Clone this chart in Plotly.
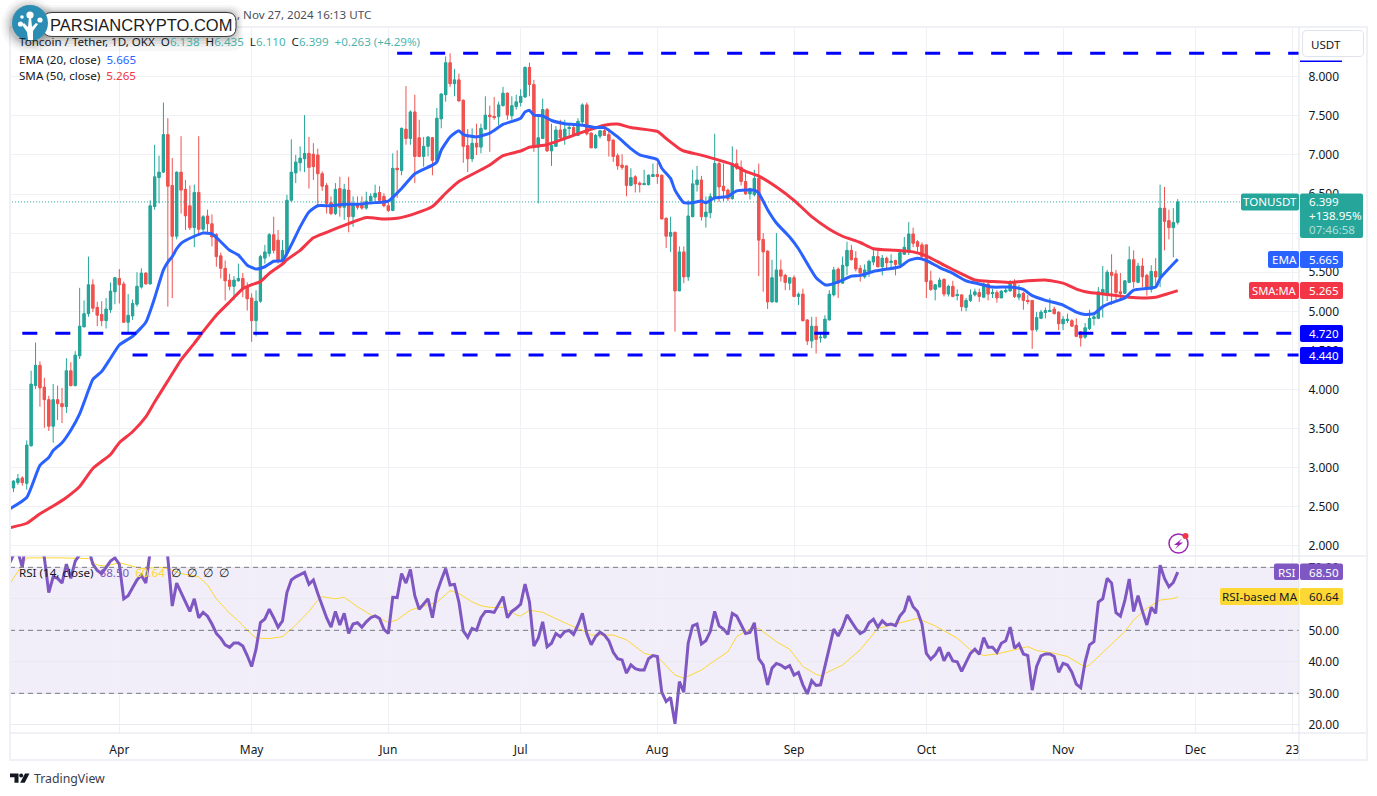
import pandas as pd
import plotly.graph_objects as go

W, H = 1377, 796

# daily candles, 7 Mar to 27 Nov 2024, one row per month
opens = [
    2.69, 2.74, 2.81, 2.87, 2.80, 3.28, 4.05, 4.31, 4.03, 3.87, 3.53, 3.87, 3.82, 3.78, 4.24, 4.05, 4.43, 4.80, 4.97, 5.34, 5.05, 4.96, 4.88, 5.02, 5.25,
    5.42, 5.35, 4.86, 4.94, 5.09, 5.31, 5.49, 5.35, 6.34, 6.71, 6.78, 7.26, 6.61, 5.96, 6.78, 6.56, 6.35, 6.07, 6.52, 6.05, 6.22, 6.12, 5.98, 5.71, 5.55, 5.40, 5.32, 5.39, 5.42, 5.31,
    5.17, 4.88, 5.13, 5.68, 5.74, 5.98, 5.91, 5.65, 5.74, 6.42, 6.77, 6.90, 6.95, 7.02, 7.01, 7.00, 6.76, 6.61, 6.39, 6.25, 6.57, 6.33, 6.55, 6.21, 6.38, 6.38, 6.32, 6.41, 6.46, 6.52, 6.47,
    6.35, 6.29, 6.83, 6.80, 7.33, 7.21, 7.55, 7.22, 6.98, 7.11, 7.22, 6.93, 7.46, 7.77, 8.18, 7.91, 7.96, 7.70, 7.12, 6.95, 7.15, 7.10, 7.33, 7.51, 7.49, 7.49, 7.63, 7.79, 7.50, 7.62,
    7.67, 7.74, 8.12, 7.90, 7.10, 7.21, 7.58, 7.05, 7.11, 7.32, 7.22, 7.34, 7.35, 7.25, 7.42, 7.64, 7.28, 7.09, 7.24, 7.31, 7.26, 7.19, 6.99, 6.87, 6.86, 6.61, 6.72, 6.64, 6.62, 6.62, 6.73,
    6.75, 6.74, 6.19, 5.96, 6.01, 5.26, 5.76, 5.44, 6.21, 6.62, 6.68, 6.21, 6.26, 6.46, 6.89, 6.60, 6.55, 6.44, 6.89, 6.84, 6.66, 6.50, 6.49, 6.70, 5.92, 5.77, 5.12, 5.12, 5.53, 5.46, 5.36,
    5.43, 5.19, 5.22, 4.89, 4.62, 4.81, 4.66, 4.66, 4.89, 5.21, 5.54, 5.36, 5.58, 5.78, 5.68, 5.55, 5.44, 5.51, 5.63, 5.70, 5.57, 5.68, 5.63, 5.65, 5.60, 5.73, 5.76, 5.99, 5.89, 5.85,
    5.85, 5.39, 5.28, 5.31, 5.41, 5.22, 5.32, 5.20, 5.21, 5.05, 5.14, 5.21, 5.24, 5.18, 5.35, 5.23, 5.24, 5.17, 5.25, 5.26, 5.37, 5.18, 5.23, 5.14, 5.14, 4.77, 4.91, 4.99, 5.00, 5.03, 4.99,
    4.84, 4.88, 4.88, 4.82, 4.74, 4.67, 4.78, 4.91, 4.91, 5.23, 5.21, 5.50, 5.48, 5.25, 5.23, 5.37, 5.66, 5.37, 5.58, 5.46, 5.28, 5.51, 5.43, 6.32, 6.16, 6.07, 6.138,
]
highs = [
    2.76, 2.84, 2.92, 2.89, 3.35, 4.24, 4.60, 4.36, 4.15, 3.92, 4.07, 4.05, 4.02, 4.40, 4.35, 4.49, 5.30, 5.14, 5.70, 5.41, 5.12, 5.13, 5.17, 5.37, 5.44,
    5.54, 5.38, 5.22, 5.15, 5.50, 5.55, 5.50, 6.42, 7.13, 6.99, 7.67, 7.47, 6.96, 6.79, 7.24, 6.68, 6.61, 6.62, 7.24, 6.23, 6.30, 6.24, 6.00, 5.75, 5.65, 5.48, 5.45, 5.61, 5.49, 5.37,
    5.23, 5.27, 5.72, 5.85, 6.00, 6.21, 6.04, 5.91, 6.49, 7.20, 7.00, 7.11, 7.51, 7.23, 7.15, 7.08, 6.79, 6.64, 6.47, 6.64, 6.72, 6.63, 6.72, 6.47, 6.47, 6.47, 6.53, 6.51, 6.62, 6.60, 6.51,
    6.42, 7.02, 7.06, 7.35, 7.88, 7.57, 7.77, 7.45, 7.23, 7.24, 7.23, 7.60, 7.79, 8.26, 8.30, 8.10, 8.04, 7.71, 7.33, 7.34, 7.40, 7.40, 7.75, 7.63, 7.74, 7.68, 7.87, 7.80, 7.75, 7.77,
    7.84, 8.13, 8.18, 7.96, 7.51, 7.72, 7.60, 7.40, 7.37, 7.45, 7.45, 7.39, 7.38, 7.47, 7.66, 7.67, 7.29, 7.27, 7.32, 7.37, 7.34, 7.20, 7.02, 7.01, 6.87, 6.83, 6.74, 6.66, 6.81, 6.75, 6.89,
    6.90, 6.75, 6.20, 6.21, 6.02, 5.83, 5.83, 6.42, 6.81, 6.86, 6.73, 6.47, 6.51, 7.27, 6.91, 6.89, 6.57, 7.11, 7.07, 6.93, 6.79, 6.58, 6.81, 6.89, 6.00, 5.78, 5.66, 6.00, 5.66, 5.48, 5.43,
    5.46, 5.24, 5.29, 4.90, 4.93, 4.93, 4.72, 4.95, 5.27, 5.57, 5.56, 5.70, 5.89, 5.85, 5.77, 5.59, 5.60, 5.66, 5.82, 5.78, 5.72, 5.70, 5.73, 5.66, 5.80, 5.95, 6.14, 6.07, 5.91, 5.88,
    5.85, 5.52, 5.35, 5.43, 5.42, 5.34, 5.39, 5.28, 5.22, 5.17, 5.28, 5.29, 5.29, 5.37, 5.37, 5.29, 5.27, 5.27, 5.30, 5.40, 5.41, 5.34, 5.25, 5.21, 5.14, 4.99, 5.02, 5.05, 5.17, 5.06, 5.00,
    4.94, 4.97, 4.90, 4.91, 4.74, 4.85, 5.02, 4.98, 5.31, 5.58, 5.53, 5.73, 5.53, 5.49, 5.40, 5.83, 5.78, 5.62, 5.68, 5.48, 5.59, 5.68, 6.62, 6.59, 6.30, 6.32, 6.435,
]
lows = [
    2.67, 2.69, 2.78, 2.77, 2.72, 3.27, 4.01, 3.78, 3.51, 3.47, 3.32, 3.61, 3.57, 3.70, 4.04, 4.04, 4.39, 4.80, 4.93, 4.99, 4.81, 4.81, 4.78, 4.98, 5.09,
    5.10, 4.85, 4.73, 4.89, 5.06, 5.29, 5.34, 5.34, 6.30, 6.38, 6.77, 5.06, 5.17, 5.92, 6.25, 6.04, 6.04, 5.82, 5.99, 6.00, 6.00, 5.83, 5.57, 5.42, 5.14, 5.27, 5.14, 5.38, 5.18, 5.01,
    4.61, 4.68, 5.11, 5.61, 5.70, 5.74, 5.61, 5.62, 5.70, 6.40, 6.64, 6.79, 6.78, 6.57, 6.68, 6.34, 6.54, 6.25, 6.23, 6.23, 6.21, 6.17, 6.01, 6.08, 6.30, 6.30, 6.30, 6.37, 6.40, 6.41, 6.33,
    6.27, 6.28, 6.45, 6.74, 7.13, 7.13, 6.64, 6.97, 6.85, 6.98, 6.74, 6.91, 7.34, 7.68, 7.87, 7.75, 7.68, 6.90, 6.78, 6.91, 7.00, 7.02, 7.32, 7.04, 7.45, 7.38, 7.62, 7.45, 7.45, 7.58,
    7.62, 7.73, 7.75, 7.04, 6.38, 7.21, 7.04, 6.86, 7.10, 7.19, 7.13, 7.21, 7.24, 7.24, 7.37, 7.25, 7.09, 7.08, 7.21, 7.25, 6.98, 6.91, 6.81, 6.81, 6.47, 6.60, 6.52, 6.52, 6.62, 6.61, 6.72,
    6.63, 6.18, 5.81, 5.76, 4.74, 5.26, 5.36, 5.39, 6.20, 6.53, 6.16, 6.07, 6.19, 6.40, 6.40, 6.41, 6.41, 6.43, 6.81, 6.61, 6.49, 6.43, 6.47, 5.45, 5.25, 5.03, 5.11, 5.11, 5.38, 5.27, 5.27,
    5.18, 5.08, 4.87, 4.57, 4.53, 4.46, 4.60, 4.65, 4.88, 5.19, 5.17, 5.35, 5.46, 5.65, 5.51, 5.38, 5.42, 5.44, 5.59, 5.56, 5.46, 5.55, 5.55, 5.46, 5.59, 5.72, 5.72, 5.82, 5.76, 5.66,
    5.17, 5.26, 5.14, 5.31, 5.19, 5.19, 5.18, 5.14, 5.00, 5.00, 5.12, 5.19, 5.12, 5.17, 5.14, 5.17, 5.11, 5.17, 5.23, 5.25, 5.17, 5.14, 5.02, 5.09, 4.52, 4.74, 4.90, 4.91, 4.99, 4.96, 4.76,
    4.76, 4.85, 4.80, 4.67, 4.55, 4.65, 4.76, 4.82, 4.90, 4.92, 5.13, 5.08, 5.12, 5.14, 5.22, 5.36, 5.30, 5.36, 5.31, 5.20, 5.24, 5.31, 5.31, 5.78, 5.92, 5.69, 6.110,
]
closes = [
    2.75, 2.83, 2.86, 2.81, 3.29, 4.07, 4.31, 4.02, 3.87, 3.53, 3.87, 3.82, 3.78, 4.24, 4.05, 4.44, 4.81, 4.97, 5.34, 5.04, 4.95, 4.88, 5.03, 5.26, 5.43,
    5.34, 4.86, 4.95, 5.10, 5.32, 5.49, 5.35, 6.35, 6.72, 6.78, 7.26, 6.60, 5.96, 6.78, 6.55, 6.22, 6.07, 6.52, 6.05, 6.21, 6.12, 5.95, 5.70, 5.55, 5.39, 5.32, 5.40, 5.42, 5.29, 5.16,
    4.88, 5.13, 5.70, 5.76, 5.98, 5.78, 5.65, 5.78, 6.42, 6.78, 6.91, 6.96, 7.02, 6.84, 6.85, 6.76, 6.60, 6.38, 6.25, 6.56, 6.33, 6.56, 6.21, 6.38, 6.33, 6.32, 6.41, 6.47, 6.51, 6.42, 6.35,
    6.29, 6.83, 6.81, 7.34, 7.21, 7.55, 6.98, 6.98, 7.11, 7.23, 6.93, 7.47, 7.78, 8.18, 7.91, 7.96, 7.69, 7.11, 6.95, 7.15, 7.10, 7.34, 7.51, 7.49, 7.48, 7.64, 7.79, 7.51, 7.63, 7.68,
    7.75, 8.12, 7.90, 7.10, 7.22, 7.58, 7.05, 7.12, 7.32, 7.22, 7.33, 7.35, 7.25, 7.43, 7.64, 7.27, 7.09, 7.25, 7.31, 7.25, 7.18, 6.98, 6.86, 6.84, 6.61, 6.71, 6.63, 6.62, 6.63, 6.74, 6.75,
    6.73, 6.18, 5.96, 6.01, 5.26, 5.76, 5.44, 6.22, 6.63, 6.68, 6.21, 6.27, 6.47, 6.89, 6.59, 6.54, 6.44, 6.89, 6.83, 6.66, 6.50, 6.57, 6.70, 5.91, 5.76, 5.12, 5.43, 5.53, 5.45, 5.37, 5.43,
    5.19, 5.22, 4.88, 4.62, 4.81, 4.64, 4.67, 4.90, 5.22, 5.53, 5.36, 5.59, 5.78, 5.66, 5.54, 5.49, 5.53, 5.64, 5.70, 5.57, 5.68, 5.62, 5.64, 5.60, 5.75, 5.82, 5.99, 5.87, 5.83, 5.70,
    5.38, 5.28, 5.34, 5.40, 5.22, 5.32, 5.19, 5.21, 5.06, 5.14, 5.21, 5.25, 5.19, 5.35, 5.22, 5.24, 5.17, 5.26, 5.27, 5.37, 5.19, 5.22, 5.14, 5.13, 4.76, 4.92, 4.99, 5.01, 5.01, 4.97, 4.84,
    4.90, 4.90, 4.81, 4.68, 4.66, 4.79, 4.91, 4.93, 5.25, 5.28, 5.50, 5.46, 5.24, 5.23, 5.39, 5.66, 5.38, 5.58, 5.44, 5.28, 5.51, 5.44, 6.32, 6.15, 6.07, 6.136, 6.399,
]

ema_dates = [
    "03-07", "03-11", "03-14", "03-16", "03-17", "03-19", "03-21", "03-23", "03-25", "03-26", "03-28", "03-30",
    "04-01", "04-04", "04-07", "04-09", "04-11", "04-12", "04-13", "04-14", "04-15", "04-18", "04-20", "04-22", "04-24", "04-26", "04-28", "04-30",
    "05-02", "05-04", "05-06", "05-08", "05-10", "05-12", "05-14", "05-16", "05-19", "05-22", "05-25", "05-29",
    "06-01", "06-04", "06-07", "06-11", "06-12", "06-13", "06-15", "06-17", "06-18", "06-21", "06-24", "06-27",
    "07-01", "07-02", "07-03", "07-04", "07-06", "07-08", "07-11", "07-15", "07-18", "07-20", "07-23", "07-26", "07-28",
    "08-01", "08-02", "08-04", "08-05", "08-07", "08-09", "08-11", "08-12", "08-14", "08-17", "08-19", "08-23", "08-24", "08-26", "08-28", "08-31",
    "09-02", "09-04", "09-06", "09-08", "09-09", "09-12", "09-14", "09-16", "09-19", "09-22", "09-25", "09-27", "09-29",
    "10-01", "10-04", "10-07", "10-10", "10-13", "10-16", "10-20", "10-23", "10-25", "10-28",
    "11-01", "11-04", "11-06", "11-08", "11-10", "11-12", "11-15", "11-17", "11-22", "11-23", "11-27",
]
ema_values = [
    2.47, 2.62, 3.03, 3.13, 3.22, 3.32, 3.48, 3.69, 3.99, 4.13, 4.23, 4.40,
    4.57, 4.68, 4.86, 5.17, 5.53, 5.63, 5.70, 5.80, 5.87, 5.96, 6.00, 5.99, 5.89, 5.78, 5.72, 5.59,
    5.54, 5.57, 5.64, 5.65, 5.85, 6.08, 6.27, 6.35, 6.35, 6.37, 6.37, 6.39,
    6.41, 6.57, 6.76, 6.87, 6.91, 7.06, 7.23, 7.31, 7.26, 7.23, 7.28, 7.39,
    7.47, 7.55, 7.57, 7.51, 7.50, 7.44, 7.40, 7.38, 7.35, 7.35, 7.23, 7.08, 7.00,
    6.94, 6.83, 6.70, 6.55, 6.39, 6.39, 6.41, 6.39, 6.45, 6.47, 6.54, 6.55, 6.51, 6.30, 6.13, 5.95,
    5.80, 5.61, 5.43, 5.34, 5.34, 5.40, 5.45, 5.46, 5.51, 5.54, 5.57, 5.65, 5.68,
    5.65, 5.56, 5.485, 5.39, 5.35, 5.31, 5.31, 5.28, 5.20, 5.14,
    5.08, 4.99, 4.96, 4.97, 5.06, 5.11, 5.17, 5.27, 5.31, 5.42, 5.665,
]

sma_dates = [
    "03-07", "03-11", "03-14", "03-17", "03-20", "03-23", "03-26", "03-30",
    "04-01", "04-04", "04-07", "04-09", "04-12", "04-15", "04-18", "04-20", "04-23", "04-26", "04-29",
    "05-01", "05-03", "05-05", "05-08", "05-09", "05-12", "05-15", "05-18", "05-22", "05-27", "05-31",
    "06-03", "06-07", "06-11", "06-14", "06-17", "06-22", "06-24", "06-27",
    "07-01", "07-03", "07-07", "07-11", "07-16", "07-20", "07-23", "07-26",
    "08-01", "08-03", "08-06", "08-07", "08-10", "08-14", "08-18", "08-21", "08-24", "08-28",
    "09-01", "09-05", "09-09", "09-12", "09-16", "09-19", "09-24", "09-28",
    "10-01", "10-05", "10-09", "10-12", "10-16", "10-20", "10-24", "10-28",
    "11-01", "11-04", "11-07", "11-12", "11-16", "11-19", "11-22", "11-25", "11-27",
]
sma_values = [
    2.23, 2.29, 2.41, 2.51, 2.62, 2.76, 2.99, 3.17,
    3.32, 3.46, 3.65, 3.84, 4.11, 4.38, 4.59, 4.74, 4.95, 5.12, 5.29,
    5.34, 5.38, 5.485, 5.605, 5.66, 5.78, 5.94, 6.01, 6.10, 6.20, 6.18,
    6.19, 6.25, 6.34, 6.51, 6.66, 6.81, 6.87, 6.99,
    7.05, 7.10, 7.13, 7.21, 7.31, 7.38, 7.395, 7.35,
    7.30, 7.21, 7.08, 7.05, 7.01, 6.95, 6.88, 6.79, 6.73, 6.59,
    6.42, 6.21, 6.05, 5.96, 5.88, 5.80, 5.78, 5.76,
    5.71, 5.59, 5.48, 5.40, 5.38, 5.37, 5.39, 5.40,
    5.36, 5.285, 5.24, 5.21, 5.18, 5.17, 5.18, 5.23, 5.265,
]

# RSI(14), one value per candle; the values above the pane top get clipped
rsi_values = [
    71, 74, 75, 70, 80, 88, 88, 80, 73, 62, 67, 66.5, 65, 71, 66.5, 72, 74, 75, 76, 71, 69, 68, 70, 72, 73,
    71, 60, 61, 63.5, 66, 67.5, 65, 75, 80, 81, 85, 73, 57.7, 65, 62, 59, 56, 60, 54, 55.7, 54.5, 52, 49, 47.5, 45.4, 44.6, 46, 46, 45, 42,
    38.5, 44, 52.5, 53.6, 56.7, 54, 51, 53, 62, 66, 67, 67.7, 68.4, 64.6, 66, 61.7, 57.5, 54, 51, 56, 51.7, 55.4, 49, 52, 52.4, 51, 52.7, 54, 54.6, 53.8, 50.3,
    49, 60.5, 60.4, 68, 65, 69.3, 61, 56.7, 58.3, 60, 54, 62, 66, 69.6, 64.4, 64.6, 59, 49.8, 47.8, 50.6, 50, 54, 56, 56, 55.7, 58.3, 60.7, 54, 56, 57,
    58.3, 64.7, 59, 45, 47.5, 52.7, 44.8, 45.9, 49, 48, 49.6, 50, 48.7, 51.7, 55.4, 49, 45.4, 48, 49.4, 48.5, 46.7, 43, 41, 40.6, 36.4, 39, 37.8, 37.4, 37.4, 41, 42,
    41.7, 30.4, 27.4, 28.7, 20.3, 33.7, 30.4, 46, 51.4, 52, 45.7, 46.7, 49.6, 56, 51.4, 50.4, 48.7, 55.4, 54.5, 51.7, 49, 49.3, 52.4, 41, 39, 32.7, 38, 39.5, 39, 38, 38.8,
    35.8, 36.6, 32.7, 29.8, 34, 32.5, 32.7, 38.5, 44.8, 50.4, 48.2, 51, 54.9, 52.7, 50.6, 49, 49.8, 52.4, 53.5, 51, 53, 51.7, 52, 51.5, 54.5, 56.2, 60.9, 57.5, 56, 52,
    42.7, 40.8, 42.2, 44.6, 40.3, 43, 40.3, 40, 37, 39.8, 42.7, 44, 42.4, 47.7, 44.6, 44.6, 43, 45.9, 46.7, 51, 44.3, 45.7, 42.5, 42, 31, 38.5, 41.9, 42.5, 42.5, 41.7, 36.7,
    39.5, 39, 36.7, 32.9, 31.8, 40, 45.4, 46.4, 59, 60, 66.5, 65, 55.6, 54.5, 59.4, 66.3, 56, 61, 56, 51.7, 57.3, 55.4, 70.7, 66.5, 63.8, 65.2, 68.5,
]

rsi_ma_dates = [
    "03-07", "03-09", "03-11", "03-18", "03-22", "03-25", "03-27", "03-29",
    "04-01", "04-03", "04-06", "04-10", "04-12", "04-15", "04-19", "04-21", "04-23", "04-26", "04-28", "04-30",
    "05-02", "05-05", "05-08", "05-11", "05-14", "05-16", "05-17", "05-20", "05-22", "05-25", "05-28", "05-30",
    "06-01", "06-03", "06-06", "06-09", "06-12", "06-15", "06-17", "06-20", "06-22", "06-24", "06-27", "06-30",
    "07-01", "07-03", "07-06", "07-11", "07-15", "07-17", "07-22", "07-25", "07-29",
    "08-01", "08-05", "08-07", "08-11", "08-14", "08-17", "08-19", "08-22", "08-24", "08-28", "08-31",
    "09-03", "09-06", "09-07", "09-12", "09-16", "09-20", "09-23", "09-27", "09-29",
    "10-03", "10-08", "10-11", "10-14", "10-17", "10-24", "10-26", "10-29",
    "11-02", "11-06", "11-07", "11-11", "11-15", "11-17", "11-20", "11-23", "11-26", "11-27",
]
rsi_ma_values = [
    64.4, 68.6, 73, 73, 73, 72.8, 70.7, 70.4,
    71.5, 70.7, 69.6, 70, 69.6, 68, 67, 64.4, 60, 55.4, 53, 50,
    47.5, 47.4, 48, 51.7, 56, 59.6, 60.7, 60, 60.5, 57.5, 54.9, 53.8,
    52.5, 53.3, 56.4, 57.7, 58.9, 62.6, 61.7, 59, 57.8, 57.3, 57.3, 54.9,
    54.5, 56.4, 55.7, 52.4, 50, 48.5, 48.5, 47, 42.7,
    41.7, 35.8, 34.8, 37.4, 40.4, 43.2, 48, 50.5, 50.6, 46.4, 44,
    38.5, 36, 35.6, 39, 43.8, 50.6, 51.7, 53, 53.8,
    51.4, 47.5, 43.8, 42, 42.5, 44.8, 43.6, 43,
    41.7, 38.3, 39, 44.3, 49.6, 53.3, 57, 59.6, 60.1, 60.64,
]

# horizontal levels drawn on the chart: price, first day
level_prices = [8.30, 4.72, 4.44]
level_starts = ["2024-06-03", "2024-03-10", "2024-04-04"]
last_price = 6.399

price_ticks = [2.0, 2.5, 3.0, 3.5, 4.0, 4.5, 5.0, 5.5, 6.0, 6.5, 7.0, 7.5, 8.0]
rsi_ticks = [20, 30, 40, 50, 60, 70]
rsi_levels = [30, 50, 70]
month_ticks = ["2024-04-01", "2024-05-01", "2024-06-01", "2024-07-01", "2024-08-01", "2024-09-01", "2024-10-01", "2024-11-01", "2024-12-01", "2024-12-23"]
month_labels = ["Apr", "May", "Jun", "Jul", "Aug", "Sep", "Oct", "Nov", "Dec", "23"]

assert len(opens) == len(highs) == len(lows) == len(closes) == len(rsi_values) == 266

GREEN = "#26a69a"
RED = "#ef5350"
BLUE = "#2962ff"
PINK = "#f23645"
PURPLE = "#7e57c2"
YELLOW = "#fdd835"
LEVEL = "#0000ff"
INK = "#131722"
FONT = "Noto Sans"
TEXT = 11.6
X_END = "2024-12-24 12:00"
DAY_MS = 86400000

days = pd.date_range("2024-03-07", periods=len(opens))


def stamp(values):
    return pd.to_datetime(["2024-" + v for v in values])


def px(x):
    return x / W


def py(y):
    return 1 - y / H


def box(x0, y0, x1, y1, fill, line=None, layer="above"):
    return dict(
        type="rect", xref="paper", yref="paper", x0=px(x0), x1=px(x1), y0=py(y1), y1=py(y0),
        fillcolor=fill, line=dict(color=line or "rgba(0,0,0,0)", width=1 if line else 0), layer=layer,
    )


def poly(points, fill):
    path = "M " + " L ".join(f"{px(a):.5f},{py(b):.5f}" for a, b in points) + " Z"
    return dict(type="path", xref="paper", yref="paper", path=path, fillcolor=fill, line=dict(width=0), layer="above")


def round_box(x0, y0, x1, y1, r, fill, line=None, width=1):
    a, b, c, d = px(x0), py(y0), px(x1), py(y1)
    rx, ry = r / W, r / H
    path = (
        f"M {a + rx:.5f},{b:.5f} L {c - rx:.5f},{b:.5f} Q {c:.5f},{b:.5f} {c:.5f},{b - ry:.5f} "
        f"L {c:.5f},{d + ry:.5f} Q {c:.5f},{d:.5f} {c - rx:.5f},{d:.5f} L {a + rx:.5f},{d:.5f} "
        f"Q {a:.5f},{d:.5f} {a:.5f},{d + ry:.5f} L {a:.5f},{b - ry:.5f} Q {a:.5f},{b:.5f} {a + rx:.5f},{b:.5f} Z"
    )
    return dict(
        type="path", xref="paper", yref="paper", path=path, fillcolor=fill,
        line=dict(color=line or "rgba(0,0,0,0)", width=width if line else 0), layer="above",
    )


def dot(x, y, r, fill, line=None, width=1):
    return dict(
        type="circle", xref="paper", yref="paper", x0=px(x - r), x1=px(x + r), y0=py(y + r), y1=py(y - r),
        fillcolor=fill, line=dict(color=line or "rgba(0,0,0,0)", width=width if line else 0), layer="above",
    )


def note(x, y, text, size=TEXT, color=INK, anchor="left", family=FONT):
    return dict(
        xref="paper", yref="paper", x=px(x), y=py(y), text=text, showarrow=False,
        xanchor=anchor, yanchor="middle", borderpad=0, font=dict(size=size, color=color, family=family),
    )


def paint(color, text):
    return f'<span style="color:{color}">{text}</span>'


fig = go.Figure()

# candlestick trace gives the wicks, bars give the wider bodies
fig.add_trace(
    go.Candlestick(
        x=days, open=opens, high=highs, low=lows, close=closes, whiskerwidth=0,
        increasing=dict(line=dict(color=GREEN, width=1), fillcolor=GREEN),
        decreasing=dict(line=dict(color=RED, width=1), fillcolor=RED),
    )
)
fig.add_trace(
    go.Bar(
        x=days,
        y=[abs(c - o) for o, c in zip(opens, closes)],
        base=[min(o, c) for o, c in zip(opens, closes)],
        width=0.72 * DAY_MS,
        marker=dict(color=[GREEN if c >= o else RED for o, c in zip(opens, closes)], line=dict(width=0)),
    )
)
fig.add_trace(go.Scatter(x=[days[0], X_END], y=[last_price, last_price], mode="lines", line=dict(color=GREEN, width=1, dash="1px,2px")))
fig.add_trace(go.Scatter(x=stamp(sma_dates), y=sma_values, mode="lines", line=dict(color=PINK, width=3, shape="spline", smoothing=0.5)))
fig.add_trace(go.Scatter(x=stamp(ema_dates), y=ema_values, mode="lines", line=dict(color=BLUE, width=3, shape="spline", smoothing=0.5)))
for price, start in zip(level_prices, level_starts):
    fig.add_trace(go.Scatter(x=[start, X_END], y=[price, price], mode="lines", line=dict(color=LEVEL, width=3, dash="15px,18px")))

fig.add_trace(go.Scatter(x=stamp(rsi_ma_dates), y=rsi_ma_values, yaxis="y2", mode="lines", line=dict(color=YELLOW, width=1)))
fig.add_trace(go.Scatter(x=days, y=rsi_values, yaxis="y2", mode="lines", line=dict(color=PURPLE, width=3)))

shapes = [
    dict(
        type="rect", xref="paper", yref="y2", x0=px(10), x1=px(1299), y0=min(rsi_levels), y1=max(rsi_levels),
        fillcolor="rgba(126,87,194,0.1)", line=dict(width=0), layer="below",
    )
]
for level in rsi_levels:
    shapes.append(
        dict(
            type="line", xref="paper", yref="y2", x0=px(10), x1=px(1299), y0=level, y1=level,
            line=dict(color="#787b86", width=1, dash="5px,4px"), layer="above",
        )
    )

# frame and pane separators
FRAME = "#eff1f7"
shapes += [
    box(9, 26, 11, 761, FRAME),
    box(9, 26, 1368, 28, FRAME),
    box(1366, 26, 1368, 761, FRAME),
    box(9, 759, 1368, 761, FRAME),
    box(10, 555.5, 1366, 556.5, "#e0e3eb"),
    box(10, 732.5, 1366, 733.5, "#e0e3eb"),
    box(1298.5, 27, 1299.5, 760, "#e0e3eb"),
]

# price scale labels
shapes += [
    box(1300, 60.5, 1342, 62, LEVEL),
    round_box(1302.5, 30.5, 1363.5, 56.5, 4, "#ffffff", "#e0e3eb"),
    round_box(1241, 193.5, 1299, 210.5, 2, GREEN),
    round_box(1300, 193.5, 1363, 238, 2, GREEN),
    round_box(1268, 251, 1299, 268, 2, BLUE),
    round_box(1300, 251, 1343, 268, 2, BLUE),
    round_box(1249, 282, 1299, 299, 2, PINK),
    round_box(1300, 282, 1343, 299, 2, PINK),
    round_box(1300, 325, 1343, 342, 2, LEVEL),
    round_box(1300, 347, 1343, 364, 2, LEVEL),
    round_box(1274, 563.5, 1299, 580, 2, PURPLE),
    round_box(1300, 563.5, 1343, 580, 2, PURPLE),
    round_box(1220, 588, 1299, 605, 2, YELLOW),
    round_box(1300, 588, 1343, 605, 2, YELLOW),
]

# purple flash badge
shapes += [
    dot(1178.5, 543.5, 9.5, "#ffffff", "#9c27b0", 1.5),
    poly([(1182, 538.5), (1174, 545), (1178, 545), (1175, 549), (1183, 542.5), (1179, 542.5)], "#9c27b0"),
    dot(1185.5, 536, 3, PINK),
]

# watermark badge with soft shadow
for grow, alpha in [(14, 0.03), (10, 0.04), (7, 0.05), (4, 0.06), (2, 0.08)]:
    shapes.append(round_box(43 - grow, 12 - grow / 2, 236 + grow / 2, 37 + grow, 12, f"rgba(0,0,0,{alpha})"))
    shapes.append(dot(29, 25, 18 + grow * 0.7, f"rgba(0,0,0,{alpha})"))
shapes += [
    round_box(43, 12.5, 236, 36.5, 9, "#ffffff", "#3b3b3b", 1),
    dot(30, 23, 18, "#2b8db3"),
    poly([(28, 40), (33, 40), (33, 31), (38, 24), (36, 23), (32, 27), (31, 17), (29, 17), (28, 27), (24, 23), (22, 25), (27, 32)], "#ffffff"),
    dot(30, 15, 3.6, "#ffffff"),
    dot(40, 20, 2.6, "#ffffff"),
    dot(20.5, 24, 2.6, "#ffffff"),
    dot(22, 17, 1.8, "#ffffff"),
]

# TradingView mark
shapes += [
    poly([(10, 773.5), (18.5, 773.5), (18.5, 782.8), (14.5, 782.8), (14.5, 777.3), (10, 777.3)], INK),
    dot(21.2, 775.5, 2, INK),
    poly([(25, 773.5), (29.5, 773.5), (24.7, 782.8), (20.2, 782.8)], INK),
]

light_green = "rgba(38,166,154,0.85)"
annotations = [
    note(372, 14.5, ", Nov 27, 2024 16:13 UTC", TEXT, "#4a4e5a", "right"),
    note(
        18, 42,
        "Toncoin / Tether, 1D, OKX\u00a0\u00a0O" + paint(light_green, "6.138")
        + "\u00a0\u00a0H" + paint(light_green, "6.435")
        + "\u00a0\u00a0L" + paint(light_green, "6.110")
        + "\u00a0\u00a0C" + paint(light_green, "6.399")
        + "\u00a0\u00a0" + paint(light_green, "+0.263 (+4.29%)"),
    ),
    note(18, 59, "EMA (20, close)\u00a0\u00a0" + paint(BLUE, "5.665")),
    note(18, 76, "SMA (50, close)\u00a0\u00a0" + paint(PINK, "5.265")),
    note(
        18, 572,
        "RSI (14, close)\u00a0\u00a0" + paint(PURPLE, "68.50") + "\u00a0\u00a0" + paint(YELLOW, "60.64")
        + "\u00a0\u00a0\u2205\u00a0\u00a0\u2205\u00a0\u00a0\u2205\u00a0\u00a0\u2205",
    ),
    note(140.5, 25, "PARSIANCRYPTO.COM", 16.5, "#1b1b1b", "center", "Liberation Sans"),
    note(1326, 44.5, "USDT", TEXT, INK, "center"),
    note(1270, 202, "TONUSDT", TEXT, "#ffffff", "center"),
    note(1308, 201.5, "6.399", TEXT, "#ffffff"),
    note(1308, 215.5, "+138.95%", TEXT, "#ffffff"),
    note(1308, 229.5, "07:46:58", TEXT, "rgba(255,255,255,0.65)"),
    note(1284, 259.5, "EMA", TEXT, "#ffffff", "center"),
    note(1308, 259.5, "5.665", TEXT, "#ffffff"),
    note(1274, 290.5, "SMA:MA", 11.2, "#ffffff", "center"),
    note(1308, 290.5, "5.265", TEXT, "#ffffff"),
    note(1308, 333.5, "4.720", TEXT, "#ffffff"),
    note(1308, 355.5, "4.440", TEXT, "#ffffff"),
    note(1287, 572, "RSI", TEXT, "#ffffff", "center"),
    note(1308, 572, "68.50", TEXT, "#ffffff"),
    note(1259.5, 596.5, "RSI-based MA", TEXT, INK, "center"),
    note(1308, 596.5, "60.64", TEXT, INK),
    note(33, 778, "TradingView", 12.3, "#3a3e4a"),
]

fig.update_layout(
    width=W,
    height=H,
    margin=dict(l=0, r=0, t=0, b=0),
    paper_bgcolor="#ffffff",
    plot_bgcolor="#ffffff",
    showlegend=False,
    barmode="overlay",
    shapes=shapes,
    annotations=annotations,
    font=dict(family=FONT, size=12, color=INK),
    xaxis=dict(
        domain=[px(10), px(1299)],
        anchor="y2",
        type="date",
        range=["2024-03-07 05:00", X_END],
        rangeslider=dict(visible=False),
        tickmode="array",
        tickvals=month_ticks,
        ticktext=month_labels,
        showgrid=True,
        gridcolor="#f0f1f4",
        zeroline=False,
        ticks="outside",
        ticklen=6,
        tickcolor="rgba(0,0,0,0)",
        tickfont=dict(size=12, color=INK),
    ),
    yaxis=dict(
        domain=[py(556), py(27)],
        anchor="x",
        side="right",
        range=[1.871, 8.636],
        tickmode="array",
        tickvals=price_ticks,
        # 6.000 sits fully behind the last price label
        ticktext=["" if v == 6.0 else f"{v:.3f}" for v in price_ticks],
        showgrid=True,
        gridcolor="#f0f1f4",
        zeroline=False,
        ticks="outside",
        ticklen=6,
        tickcolor="rgba(0,0,0,0)",
        tickfont=dict(size=12, color=INK),
    ),
    yaxis2=dict(
        domain=[py(733), py(556)],
        anchor="x",
        side="right",
        range=[17.4, 73.6],
        tickmode="array",
        tickvals=rsi_ticks,
        ticktext=[f"{v:.2f}" for v in rsi_ticks],
        showgrid=True,
        gridcolor="#e9e9f0",
        zeroline=False,
        ticks="outside",
        ticklen=6,
        tickcolor="rgba(0,0,0,0)",
        tickfont=dict(size=12, color=INK),
    ),
)

fig.write_html("out.html", config={"displayModeBar": False}, post_script="document.body.style.margin = '0';")
